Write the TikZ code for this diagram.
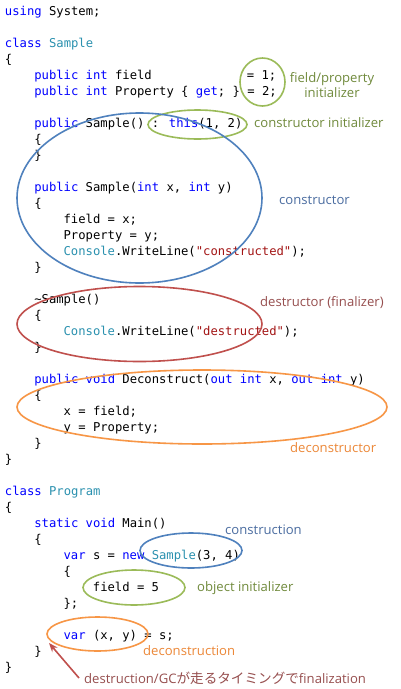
\documentclass[tikz,border=0pt]{standalone}
\usepackage{fontspec}
\setmainfont{Open Sans}
\newfontfamily\codefont{DejaVu Sans Mono}
\newfontfamily\jafont{Noto Sans CJK JP}
\usetikzlibrary{shapes.geometric,arrows.meta}
\definecolor{kwc}{RGB}{0,0,255}
\definecolor{tyc}{RGB}{43,145,175}
\definecolor{stc}{RGB}{163,21,21}
\definecolor{grn}{RGB}{155,187,89}
\definecolor{grt}{RGB}{112,138,60}
\definecolor{blu}{RGB}{79,129,189}
\definecolor{blt}{RGB}{74,108,160}
\definecolor{rde}{RGB}{192,80,77}
\definecolor{rdt}{RGB}{150,78,78}
\definecolor{org}{RGB}{247,150,70}
\definecolor{ort}{RGB}{236,135,55}
\newcommand{\kwd}[1]{\textcolor{kwc}{#1}}
\newcommand{\typ}[1]{\textcolor{tyc}{#1}}
\newcommand{\strg}[1]{\textcolor{stc}{#1}}
\newcommand{\codeline}[4]{\node[codetext] (#1) at ({5+#2*7.33},{15+16*#3}) {#4};}
\tikzset{
  codetext/.style={anchor=base west, inner sep=0pt, outer sep=0pt, font=\codefont\fontsize{12.2}{14}\selectfont},
  ann/.style={inner sep=0pt, font=\fontsize{13.1}{15}\selectfont},
  ell/.style={ellipse, inner sep=0pt, line width=1.6pt},
  arr/.style={-{Stealth[length=9pt,width=7pt]}, line width=1.6pt, draw=rde}
}
\begin{document}
\begin{tikzpicture}[x=1pt,y=-1pt]
\fill[white] (0,0) rectangle (401,689);
\useasboundingbox (0,0) rectangle (401,689);
\codeline{c0}{0}{0}{\kwd{using} System;}
\codeline{c2}{0}{2}{\kwd{class} \typ{Sample}}
\codeline{c3}{0}{3}{\{}
\codeline{c4}{4}{4}{\kwd{public} \kwd{int} field}
\codeline{c4b}{33}{4}{= 1;}
\codeline{c5}{4}{5}{\kwd{public} \kwd{int} Property \{ \kwd{get}; \} = 2;}
\codeline{c7}{4}{7}{\kwd{public} Sample() : \kwd{this}(1, 2)}
\codeline{c8}{4}{8}{\{}
\codeline{c9}{4}{9}{\}}
\codeline{c11}{4}{11}{\kwd{public} Sample(\kwd{int} x, \kwd{int} y)}
\codeline{c12}{4}{12}{\{}
\codeline{c13}{8}{13}{field = x;}
\codeline{c14}{8}{14}{Property = y;}
\codeline{c15}{8}{15}{\typ{Console}.WriteLine(\strg{"constructed"});}
\codeline{c16}{4}{16}{\}}
\codeline{c18}{4}{18}{\textasciitilde Sample()}
\codeline{c19}{4}{19}{\{}
\codeline{c20}{8}{20}{\typ{Console}.WriteLine(\strg{"destructed"});}
\codeline{c21}{4}{21}{\}}
\codeline{c23}{4}{23}{\kwd{public} \kwd{void} Deconstruct(\kwd{out} \kwd{int} x, \kwd{out} \kwd{int} y)}
\codeline{c24}{4}{24}{\{}
\codeline{c25}{8}{25}{x = field;}
\codeline{c26}{8}{26}{y = Property;}
\codeline{c27}{4}{27}{\}}
\codeline{c28}{0}{28}{\}}
\codeline{c30}{0}{30}{\kwd{class} \typ{Program}}
\codeline{c31}{0}{31}{\{}
\codeline{c32}{4}{32}{\kwd{static} \kwd{void} Main()}
\codeline{c33}{4}{33}{\{}
\codeline{c34}{8}{34}{\kwd{var} s = \kwd{new} \typ{Sample}(3, 4)}
\codeline{c35}{8}{35}{\{}
\codeline{c36}{12}{36}{field = 5}
\codeline{c37}{8}{37}{\};}
\codeline{c39}{8}{39}{\kwd{var} (x, y) = s;}
\codeline{c40}{4}{40}{\}}
\codeline{c41}{0}{41}{\}}
% annotations
\node[ann, text=grt, align=center] (a1) at (332,85) {field/property\\initializer};
\node[ann, anchor=west, text=grt] (a2) at (254,123) {constructor initializer};
\node[ann, anchor=west, text=blt] (a3) at (279,200) {constructor};
\node[ann, anchor=west, text=rdt] (a4) at (260,303) {destructor (finalizer)};
\node[ann, anchor=west, text=ort] (a5) at (290,448) {deconstructor};
\node[ann, anchor=west, text=blt] (a6) at (225,530) {construction};
\node[ann, anchor=west, text=grt] (a7) at (197,588) {object initializer};
\node[ann, anchor=west, text=ort] (a8) at (143,651) {deconstruction};
\node[ann, anchor=west, text=rdt] (a9) at (84,678) {destruction/GC{\jafont\fontsize{13.6}{15}\selectfont が走るタイミングで}finalization};
% ellipses
\node[ell, draw=grn, minimum width=45, minimum height=48] (e1) at (262.5,82) {};
\node[ell, draw=grn, minimum width=99, minimum height=29] (e2) at (197.5,124.5) {};
\node[ell, draw=blu, minimum width=245, minimum height=170] (e3) at (139.5,198) {};
\node[ell, draw=rde, minimum width=245, minimum height=75] (e4) at (139.5,324) {};
\node[ell, draw=org, minimum width=370, minimum height=74] (e5) at (202,407) {};
\node[ell, draw=blu, minimum width=102, minimum height=35] (e6) at (191,550.5) {};
\node[ell, draw=grn, minimum width=102, minimum height=35] (e7) at (134,587.5) {};
\node[ell, draw=org, minimum width=101, minimum height=34] (e8) at (97.5,634) {};
% arrow
\coordinate (gc) at (49,643);
\draw[arr] ([xshift=-5pt]a9.west) -- (gc);
\end{tikzpicture}
\end{document}
